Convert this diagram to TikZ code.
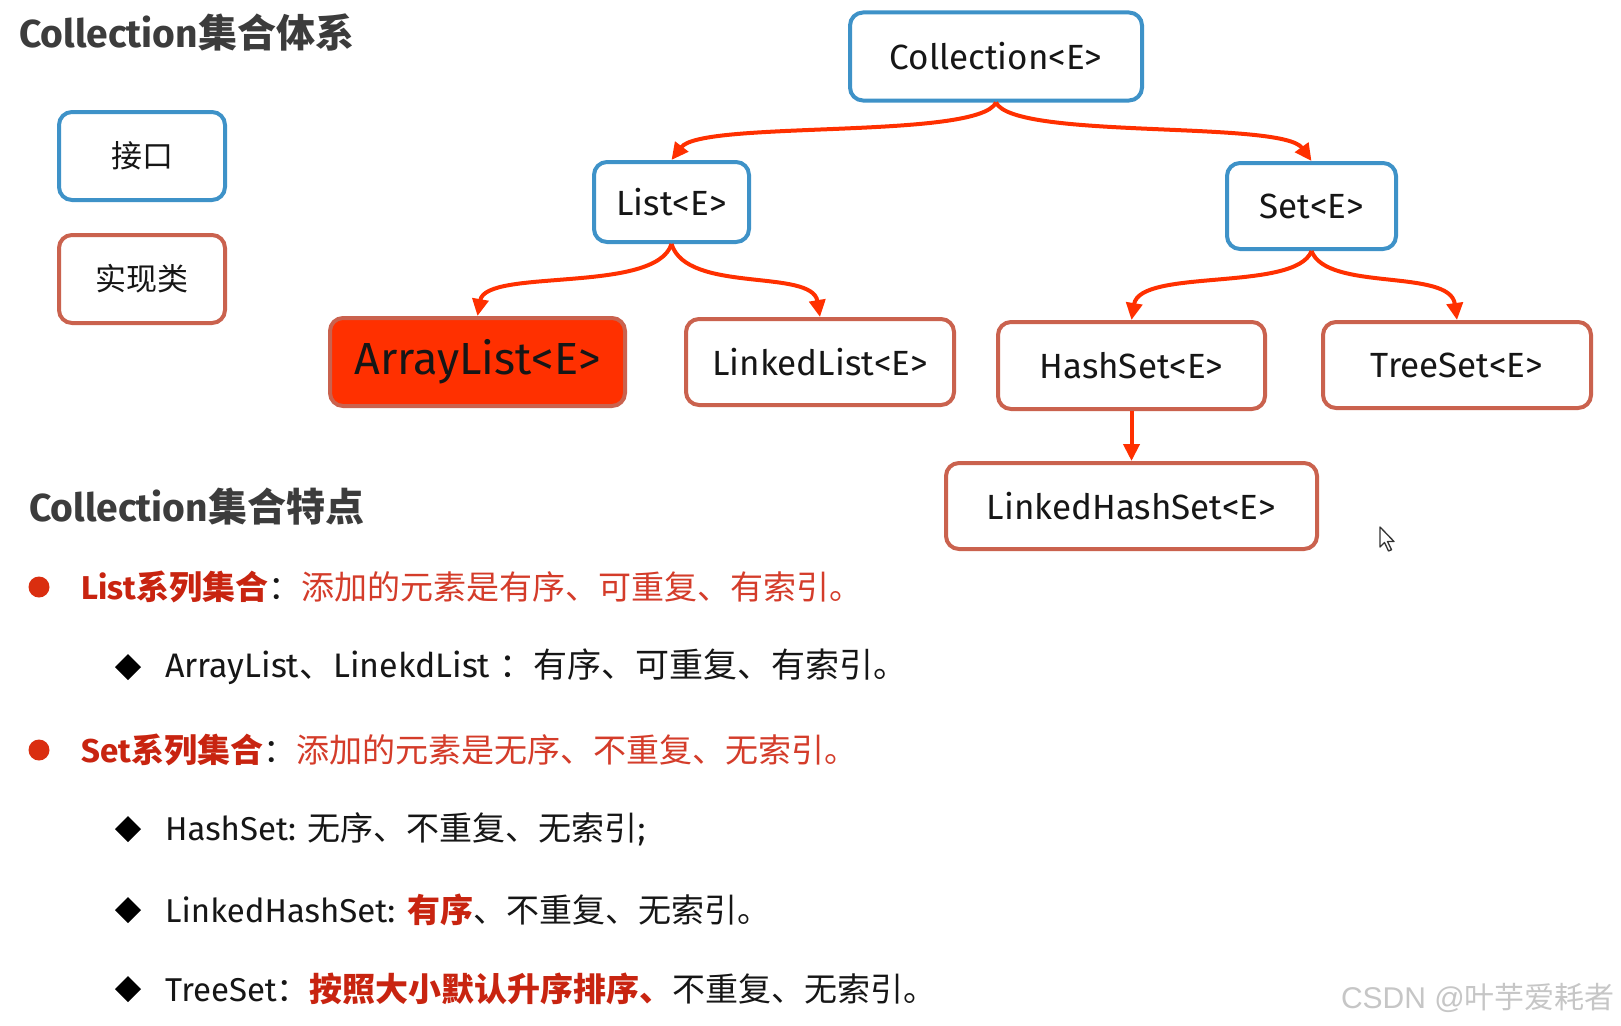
\documentclass[tikz,border=0pt]{standalone}
\usepackage{fontspec}
\setmainfont{Fira Sans}
\newfontfamily\cjk{Noto Sans CJK SC}
\newfontfamily\wmfont{Liberation Sans}
\usetikzlibrary{arrows.meta}
\newcommand{\zh}[1]{{\cjk #1}}
\definecolor{bluec}{RGB}{62,146,200}
\definecolor{redc}{RGB}{202,98,78}
\definecolor{arrc}{RGB}{255,48,0}
\definecolor{fillr}{RGB}{255,48,0}
\definecolor{titlec}{RGB}{60,60,60}
\definecolor{txt}{RGB}{22,22,22}
\definecolor{redB}{RGB}{200,36,16}
\definecolor{redR}{RGB}{212,60,42}
\definecolor{dotc}{RGB}{218,46,16}
\definecolor{wmc}{RGB}{198,198,198}
\tikzset{
  box/.style={line width=4pt, rounded corners=13pt, fill=white, text=txt, inner sep=0pt,
              font=\fontsize{35}{40}\selectfont},
  iface/.style={box, draw=bluec},
  impl/.style={box, draw=redc},
  arr/.style={draw=arrc, line width=4pt, -{Triangle[length=17pt,width=16pt]}},
  line/.style={anchor=west, inner sep=0pt, text=txt, font=\fontsize{33}{38}\selectfont},
  ttl/.style={anchor=west, inner sep=0pt, text=titlec, font=\fontsize{39}{44}\selectfont\bfseries},
}
\begin{document}
\begin{tikzpicture}[x=1pt, y=-1pt]
\fill[white] (0,0) rectangle (1621,1025);
\useasboundingbox (0,0) rectangle (1621,1025);

% titles
\node[ttl] (t1) at (19,33) {Collection\zh{集合体系}};
\node[ttl] (t2) at (29,507) {Collection\zh{集合特点}};

% legend
\node[iface, minimum width=166pt, minimum height=88pt, font=\fontsize{31}{36}\selectfont\cjk] (leg1) at (142,156) {接口};
\node[impl, minimum width=166pt, minimum height=88pt, font=\fontsize{31}{36}\selectfont\cjk] (leg2) at (142,279) {实现类};

% tree
\node[iface, minimum width=292pt, minimum height=88pt] (col) at (996,56.5) {Collection<E>};
\node[iface, minimum width=155pt, minimum height=80pt] (list) at (671.5,202) {List<E>};
\node[iface, minimum width=169pt, minimum height=86pt] (set) at (1311.5,206) {Set<E>};
\node[impl, fill=fillr, minimum width=295pt, minimum height=88pt, font=\fontsize{45}{50}\selectfont] (al) at (477.5,362) {ArrayList<E>};
\node[impl, minimum width=268pt, minimum height=86pt] (ll) at (820,362) {LinkedList<E>};
\node[impl, minimum width=267pt, minimum height=87pt] (hs) at (1131.5,365.5) {HashSet<E>};
\node[impl, minimum width=268pt, minimum height=86pt] (ts) at (1457,365) {TreeSet<E>};
\node[impl, minimum width=371pt, minimum height=86pt] (lhs) at (1131.5,506) {LinkedHashSet<E>};

\draw[arr] (col.south) .. controls (978,140) and (702,120) .. (list.north);
\draw[arr] (col.south) .. controls (1014,140) and (1282,120) .. (set.north);
\draw[arr] (list.south) .. controls (656,294) and (486,268) .. (al.north);
\draw[arr] (list.south) .. controls (687,294) and (812,268) .. (ll.north);
\draw[arr] (set.south) .. controls (1296,292) and (1140,268) .. (hs.north);
\draw[arr] (set.south) .. controls (1327,292) and (1450,268) .. (ts.north);
\draw[arr] (hs.south) -- (lhs.north);

% bullets
\fill[dotc] (39,587) circle (10.5pt);
\fill[dotc] (39,750) circle (10.5pt);
\foreach \yy in {667,829,910,989}{
  \fill[black] (128,\yy-13) -- (141,\yy) -- (128,\yy+13) -- (115,\yy) -- cycle;
}
\node[line] (l1) at (81,587) {\textcolor{redB}{\bfseries List\zh{系列集合}}\zh{：}\textcolor{redR}{\zh{添加的元素是有序、可重复、有索引。}}};
\node[line, font=\fontsize{34}{38}\selectfont] (l2) at (165,667) {ArrayList\zh{、}LinekdList \zh{：有序、可重复、有索引。}};
\node[line] (l3) at (81,750) {\textcolor{redB}{\bfseries Set\zh{系列集合}}\zh{：}\textcolor{redR}{\zh{添加的元素是无序、不重复、无索引。}}};
\node[line] (l4) at (165,829) {HashSet: \zh{无序、不重复、无索引};};
\node[line] (l5) at (165,910) {LinkedHashSet: \textcolor{redB}{\bfseries\zh{有序}}\zh{、不重复、无索引。}};
\node[line] (l6) at (165,989) {TreeSet\zh{：}\textcolor{redB}{\bfseries\zh{按照大小默认升序排序、}}\zh{不重复、无索引。}};

% watermark
\node[anchor=east, inner sep=0pt, text=wmc, font=\fontsize{30}{34}\selectfont] (wm) at (1615,998) {\wmfont CSDN @\zh{叶芋爱耗者}};

% mouse cursor
\draw[black!80, fill=white, line width=1.3pt, line join=round]
  (1380,527) -- (1380,547) -- (1384.5,542.5) -- (1388.5,551) -- (1391.5,549.7)
  -- (1387.5,541.5) -- (1394,541.5) -- cycle;
\end{tikzpicture}
\end{document}
